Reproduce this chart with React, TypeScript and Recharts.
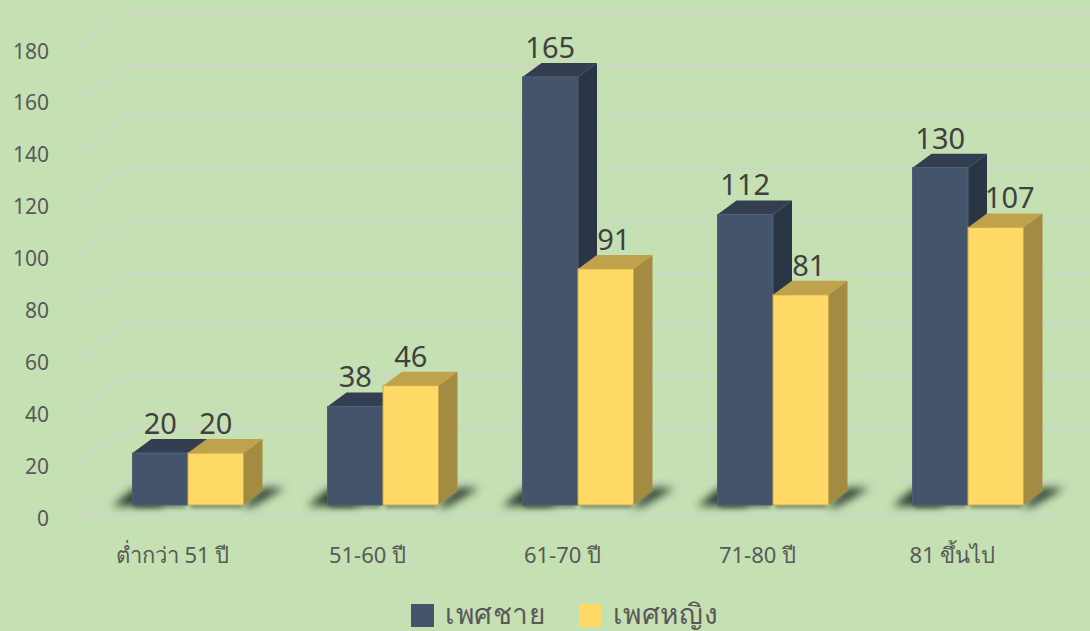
import React from "react";
import { BarChart, Bar, XAxis, YAxis, CartesianGrid, Legend, LabelList } from "recharts";

const categories = ["ต่ำกว่า 51 ปี", "51-60 ปี", "61-70 ปี", "71-80 ปี", "81 ขึ้นไป"];
const maleValues = [20, 38, 165, 112, 130];
const femaleValues = [20, 46, 91, 81, 107];
const yTicks = [0, 20, 40, 60, 80, 100, 120, 140, 160, 180];

const rows = categories.map((name, i) => ({ name, male: maleValues[i], female: femaleValues[i] }));

const FONT = '"Noto Sans", "DejaVu Sans", sans-serif';
const BG = "#C5E0B3";
const GRID = "#D0D4C8";
const DEPTH_X = 19;
const DEPTH_Y = 14;
const LIFT = 11;
const femaleLabelNudge = [0, 0, 8, 8, 14];

const pts = (a: number[][]) => a.map((p) => p.join(",")).join(" ");

function makeShape(top: string, side: string, edge: string, isFemale: boolean) {
  return function Box3D(props: any) {
    const { x, y, width, height, fill } = props;
    const t = y - LIFT;
    const b = y + height - LIFT;
    const r = x + width;
    const shadow = isFemale
      ? [[r - 2, b + 2], [r + DEPTH_X, b - DEPTH_Y - 3], [r + DEPTH_X + 22, b - DEPTH_Y - 3], [r + 8, b + 2]]
      : [[x - 20, b + 1], [x + 2, b - DEPTH_Y - 3], [x + 30, b - DEPTH_Y - 3], [x + 30, b + 1]];
    return (
      <g>
        <polygon points={pts(shadow)} fill="#2C3B2E" style={{ filter: "blur(4.5px)" }} />
        <rect x={x + 2} y={b - 2} width={width - 4} height={5} fill="#2C3B2E" opacity={0.55} style={{ filter: "blur(2px)" }} />
        <polygon points={pts([[x, t], [x + DEPTH_X, t - DEPTH_Y], [r + DEPTH_X, t - DEPTH_Y], [r, t]])} fill={top} />
        <polygon points={pts([[r, t], [r + DEPTH_X, t - DEPTH_Y], [r + DEPTH_X, b - DEPTH_Y], [r, b]])} fill={side} />
        <rect x={x} y={t} width={width} height={height} fill={fill} stroke={edge} strokeWidth={1} />
      </g>
    );
  };
}

const maleShape = makeShape("#333F50", "#2A3645", "#4F6073", false);
const femaleShape = makeShape("#BFA34C", "#A38C41", "#C9A94A", true);

const gridLine = (props: any) => {
  const { x1, x2, y1, index } = props;
  const isFloor = Math.abs(y1 - 516) < 2;
  return (
    <g key={`g-${index}`}>
      <polyline
        points={pts([[x1 - 14, y1], [x1 + 35, y1 - 36], [x2 + 30, y1 - 36]])}
        fill="none"
        stroke={GRID}
        strokeWidth={2}
      />
      {isFloor ? <line x1={x1 - 14} y1={y1} x2={x2 - 14} y2={y1} stroke={GRID} strokeWidth={2} /> : null}
    </g>
  );
};

const YTick = (props: any) => (
  <text x={49} y={props.y + 9.5} textAnchor="end" fontFamily={FONT} fontSize={21} fill="#595959">
    {props.payload.value}
  </text>
);

const XTick = (props: any) => (
  <text x={props.x - 15.5} y={563} textAnchor="middle" fontFamily={FONT} fontSize={22} fill="#595959">
    {props.payload.value}
  </text>
);

const makeLabel = (nudge: number[]) =>
  function BarValue(props: any) {
    const { x, y, width, value, index } = props;
    return (
      <text x={x + width / 2 + (nudge[index] || 0)} y={y - 30} textAnchor="middle" fontFamily={FONT} fontSize={29} fill="#404040">
        {value}
      </text>
    );
  };

const LegendBox = (props: any) => (
  <div style={{ display: "flex", alignItems: "center", height: 30, fontFamily: FONT, fontSize: 28, letterSpacing: 0.6, color: "#595959", lineHeight: "30px" }}>
    {(props.payload || []).map((item: any, i: number) => (
      <div key={item.value} style={{ display: "flex", alignItems: "center", marginLeft: i === 0 ? 411 : 33 }}>
        <span style={{ width: 23, height: 23, background: item.color, display: "inline-block", marginRight: 11, position: "relative", top: 2 }} />
        <span style={{ display: "inline-block", height: 30 }}>{item.value}</span>
      </div>
    ))}
  </div>
);

export default function App() {
  return (
    <div style={{ position: "absolute", left: 0, top: 0, width: 1090, height: 631, background: BG, overflow: "hidden" }}>
      <BarChart
        width={1090}
        height={631}
        data={rows}
        margin={{ top: 49, right: 24.5, bottom: 0, left: 0 }}
        barGap={0}
        barSize={55.5}
      >
        <CartesianGrid vertical={false} horizontal={gridLine} />
        <XAxis dataKey="name" height={85} axisLine={false} tickLine={false} tick={XTick} interval={0} />
        <YAxis width={90.5} domain={[0, 180]} ticks={yTicks} axisLine={false} tickLine={false} tick={YTick} />
        <Legend
          content={<LegendBox />}
          wrapperStyle={{ position: "absolute", left: 0, top: 598, width: 1090, height: 30 }}
        />
        <Bar dataKey="male" name="เพศชาย" fill="#44546A" shape={maleShape} isAnimationActive={false}>
          <LabelList dataKey="male" content={makeLabel([])} />
        </Bar>
        <Bar dataKey="female" name="เพศหญิง" fill="#FFD966" shape={femaleShape} isAnimationActive={false}>
          <LabelList dataKey="female" content={makeLabel(femaleLabelNudge)} />
        </Bar>
      </BarChart>
    </div>
  );
}
